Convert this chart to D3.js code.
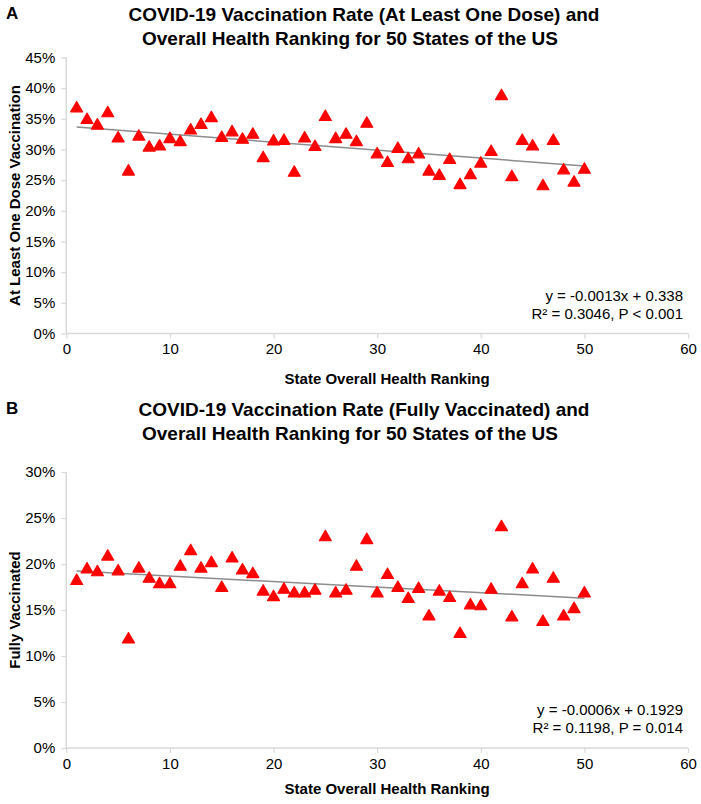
<!DOCTYPE html>
<html><head><meta charset="utf-8">
<script src="https://cdn.jsdelivr.net/npm/d3@7"></script>
<style>body{margin:0;background:#fff}svg{display:block;font-family:"Liberation Sans",Arial,sans-serif}</style>
</head><body><svg id="c" width="701" height="804"></svg>
<script>
const ranks = d3.range(1, 51);
const oneDose = [36.7,34.8,33.9,35.9,31.8,26.4,32.1,30.3,30.5,31.7,31.2,33.1,34.0,35.1,31.9,32.8,31.6,32.4,28.6,31.3,31.4,26.2,31.8,30.4,35.3,31.7,32.4,31.2,34.2,29.2,27.8,30.1,28.4,29.2,26.4,25.7,28.3,24.2,25.8,27.7,29.6,38.7,25.5,31.4,30.5,24.0,31.4,26.6,24.6,26.7];
const fully = [18.15,19.4,19.1,20.8,19.2,11.8,19.5,18.4,17.8,17.8,19.7,21.4,19.5,20.1,17.4,20.6,19.3,18.9,17.0,16.4,17.2,16.8,16.8,17.1,22.9,16.8,17.1,19.7,22.6,16.8,18.8,17.4,16.2,17.3,14.3,17.0,16.3,12.4,15.5,15.4,17.2,24.0,14.2,17.8,19.4,13.7,18.4,14.3,15.1,16.8];
const xTicks = [0,10,20,30,40,50,60];
const yTicksA = [0,5,10,15,20,25,30,35,40,45];
const yTicksB = [0,5,10,15,20,25,30];
const panels = [
  {letter:"A", title:["COVID-19 Vaccination Rate (At Least One Dose) and","Overall Health Ranking for 50 States of the US"],
   ylabel:"At Least One Dose Vaccination", values:oneDose, yMax:45, yTicks:yTicksA,
   slope:-0.0013, intercept:0.338, eq:["y = -0.0013x + 0.338","R² = 0.3046, P < 0.001"], top:57.5, titleY:21, xTitleOff:50},
  {letter:"B", title:["COVID-19 Vaccination Rate (Fully Vaccinated) and","Overall Health Ranking for 50 States of the US"],
   ylabel:"Fully Vaccinated", values:fully, yMax:30, yTicks:yTicksB,
   slope:-0.0006, intercept:0.1929, eq:["y = -0.0006x + 0.1929","R² = 0.1198, P = 0.014"], top:472, titleY:416, xTitleOff:46}
];
const svg = d3.select("#c");
const left = 66.3, right = 688, ph = 276;
panels.forEach(p => {
  const g = svg.append("g");
  const x = d3.scaleLinear().domain([0,60]).range([left,right]);
  const y = d3.scaleLinear().domain([0,p.yMax]).range([p.top+ph,p.top]);
  // titles
  g.append("text").attr("x",6).attr("y",p.titleY-2).attr("font-size",17).attr("font-weight","bold").text(p.letter);
  p.title.forEach((t,i)=>g.append("text").attr("x",i==0?364:350).attr("y",p.titleY+i*24)
    .attr("text-anchor","middle").attr("font-size",19).attr("font-weight","bold").text(t));
  // axes
  const ya = d3.axisLeft(y).tickValues(p.yTicks).tickFormat(d=>d+"%").tickSize(5).tickPadding(6);
  const yg = g.append("g").attr("transform",`translate(${left},0)`).call(ya);
  const xa = d3.axisBottom(x).tickValues(xTicks).tickSize(5).tickPadding(5);
  const xg = g.append("g").attr("transform",`translate(0,${p.top+ph})`).call(xa);
  [yg,xg].forEach(a=>{
    a.select(".domain").attr("stroke","#d9d9d9").attr("stroke-width",1.5);
    a.selectAll(".tick line").attr("stroke","#d9d9d9").attr("stroke-width",1.2);
    a.selectAll(".tick text").attr("font-size",15).attr("fill","#000").attr("font-family","Liberation Sans, Arial, sans-serif");
  });
  yg.select(".domain").attr("d",`M0,${p.top}V${p.top+ph}`);
  xg.select(".domain").attr("d",`M${left},0H${right}`);
  // axis titles
  g.append("text").attr("x",(left+right)/2+10).attr("y",p.top+ph+p.xTitleOff).attr("text-anchor","middle")
    .attr("font-size",15).attr("font-weight","bold").text("State Overall Health Ranking");
  g.append("text").attr("transform",`translate(20,${p.top+ph/2}) rotate(-90)`).attr("text-anchor","middle")
    .attr("font-size",15).attr("font-weight","bold").text(p.ylabel);
  // trend line
  g.append("line").attr("x1",x(1)).attr("x2",x(50))
    .attr("y1",y((p.slope*1+p.intercept)*100)).attr("y2",y((p.slope*50+p.intercept)*100))
    .attr("stroke","#8c8c8c").attr("stroke-width",1.5);
  // points
  const tri = d3.symbol().type(d3.symbolTriangle).size(62);
  g.selectAll("path.pt").data(p.values).join("path").attr("class","pt")
    .attr("d",tri).attr("transform",(d,i)=>`translate(${x(ranks[i])},${y(d)})`)
    .attr("fill","#ff0000").attr("stroke","#ff0000").attr("stroke-width",1.2).attr("stroke-linejoin","round");
  // equation
  p.eq.forEach((t,i)=>g.append("text").attr("x",683).attr("y",p.top+ph-33+i*18).attr("text-anchor","end")
    .attr("font-size",15).text(t));
});
</script></body></html>
